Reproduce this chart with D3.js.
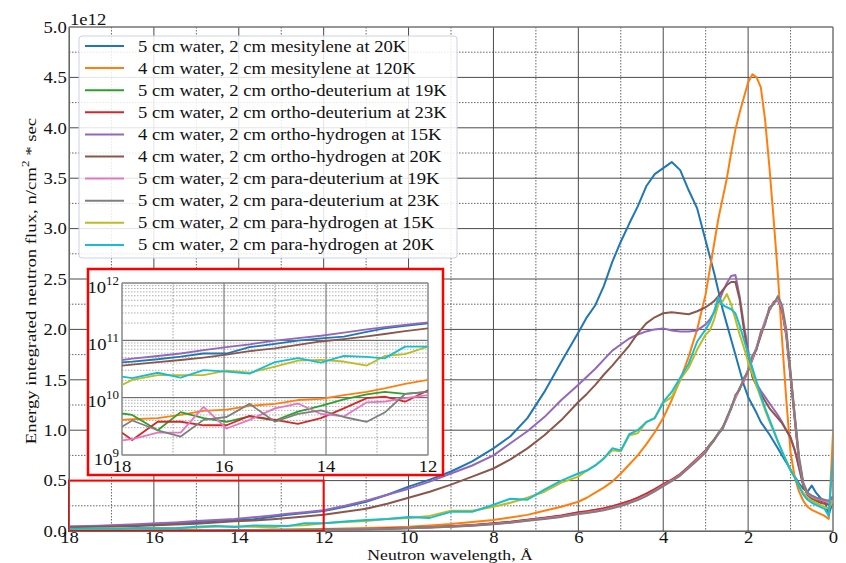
<!DOCTYPE html>
<html><head><meta charset="utf-8">
<script src="https://cdn.jsdelivr.net/npm/d3@7/dist/d3.min.js"></script>
<style>body{margin:0;background:#fff}svg{display:block}text{font-family:"Liberation Serif","Times New Roman",serif;fill:#111}</style>
</head><body><svg id="c" width="846" height="563"></svg>
<script>
// wavelength grid, Å
const wavelengths = [18,17.8,17.3,16.85,16.4,15.95,15.5,15.0,14.55,14.1,13.65,13.2,12.85,12.45,12.0,
  11.5,11,10.5,10,9.5,9,8.5,8,7.6,7.2,6.8,6.4,
  6.0,5.8,5.6,5.4,5.2,5.0,4.8,4.6,4.4,4.2,4.0,3.8,3.6,3.4,3.2,
  3.0,2.9,2.8,2.7,2.6,2.5,2.4,2.3,2.2,2.1,2.0,1.9,1.8,1.7,1.6,1.5,1.4,1.3,1.2,1.1,1.0,0.9,0.8,0.7,0.6,0.5,0.4,0.3,0.2,0.1,0];
// flux values in units of 1e12 n/cm^2*sec
const mesitylene20K = [0.0413,0.0425,0.0468,0.0519,0.0589,0.0589,0.0759,0.0871,0.0989,0.108,0.116,0.141,0.162,0.178,0.198,
  0.24,0.29,0.36,0.44,0.51,0.59,0.69,0.82,0.94,1.12,1.38,1.68,
  1.97,2.12,2.24,2.43,2.67,2.87,3.05,3.22,3.42,3.54,3.60,3.66,3.58,3.38,3.20,
  2.88,2.72,2.56,2.38,2.20,2.05,1.90,1.75,1.60,1.45,1.33,1.25,1.17,1.08,1.02,0.96,0.89,0.82,0.75,0.68,0.61,0.54,0.47,0.42,0.39,0.45,0.38,0.33,0.30,0.16,0.30];
const mesitylene120K = [0.0041,0.0042,0.0044,0.0050,0.0059,0.0062,0.0072,0.0078,0.0091,0.0095,0.0111,0.0126,0.0145,0.0174,0.0204,
  0.025,0.03,0.035,0.042,0.055,0.07,0.09,0.11,0.135,0.16,0.2,0.24,
  0.29,0.33,0.38,0.43,0.49,0.57,0.66,0.75,0.86,0.98,1.12,1.30,1.50,1.73,2.0,
  2.35,2.6,2.85,3.1,3.3,3.5,3.75,3.98,4.15,4.3,4.45,4.53,4.5,4.4,4.08,3.62,3.1,2.55,1.9,1.3,0.78,0.53,0.39,0.3,0.24,0.21,0.19,0.17,0.15,0.12,0.97];
const orthoDeuterium19K = [0.0053,0.0050,0.0027,0.0056,0.0044,0.0038,0.0047,0.0040,0.0057,0.0072,0.0093,0.0114,0.0126,0.0116,0.0126,
  0.015,0.018,0.023,0.03,0.037,0.046,0.058,0.075,0.09,0.11,0.13,0.152,
  0.182,0.193,0.207,0.222,0.243,0.265,0.293,0.325,0.365,0.41,0.46,0.505,0.56,0.635,0.715,
  0.80,0.86,0.91,0.97,1.03,1.12,1.23,1.33,1.42,1.50,1.60,1.71,1.82,1.95,2.08,2.19,2.26,2.29,2.2,1.95,1.55,1.12,0.7,0.46,0.37,0.34,0.32,0.31,0.30,0.28,0.33];
const orthoDeuterium23K = [0.00245,0.00182,0.0038,0.0038,0.0033,0.0033,0.0048,0.0041,0.0035,0.0044,0.0065,0.0098,0.0104,0.0085,0.0135,
  0.016,0.019,0.024,0.031,0.038,0.047,0.06,0.077,0.092,0.112,0.132,0.155,
  0.185,0.196,0.21,0.226,0.247,0.27,0.297,0.33,0.37,0.415,0.465,0.51,0.565,0.64,0.72,
  0.80,0.855,0.905,0.965,1.02,1.11,1.22,1.32,1.41,1.49,1.59,1.70,1.81,1.94,2.07,2.19,2.27,2.30,2.19,1.93,1.52,1.10,0.69,0.46,0.36,0.33,0.31,0.30,0.29,0.27,0.30];
const orthoHydrogen15K = [0.0454,0.0479,0.0533,0.0589,0.0676,0.0759,0.0851,0.0989,0.1096,0.1202,0.136,0.155,0.17,0.186,0.206,
  0.25,0.30,0.36,0.42,0.49,0.57,0.65,0.75,0.87,0.99,1.13,1.30,
  1.45,1.53,1.61,1.70,1.79,1.85,1.91,1.95,1.98,2.0,2.01,1.99,1.98,1.98,1.99,
  2.05,2.10,2.17,2.26,2.37,2.46,2.53,2.54,2.33,2.05,1.80,1.57,1.46,1.39,1.33,1.27,1.21,1.15,1.08,1.0,0.92,0.8,0.62,0.45,0.38,0.35,0.33,0.31,0.30,0.28,0.35];
const orthoHydrogen20K = [0.0361,0.0376,0.0417,0.0454,0.0501,0.0562,0.0646,0.0724,0.0832,0.0955,0.105,0.117,0.129,0.145,0.162,
  0.19,0.22,0.27,0.33,0.39,0.46,0.54,0.62,0.71,0.82,0.95,1.10,
  1.28,1.36,1.45,1.55,1.64,1.74,1.84,1.96,2.06,2.12,2.16,2.17,2.16,2.15,2.18,
  2.22,2.25,2.28,2.33,2.39,2.44,2.47,2.47,2.30,2.0,1.74,1.53,1.44,1.36,1.29,1.22,1.17,1.12,1.07,1.0,0.93,0.80,0.64,0.45,0.36,0.32,0.30,0.28,0.27,0.26,0.32];
const paraDeuterium19K = [0.0018,0.0019,0.00245,0.00245,0.0069,0.0029,0.0041,0.0065,0.0079,0.0052,0.0047,0.0083,0.0085,0.0098,0.0111,
  0.014,0.017,0.021,0.028,0.035,0.043,0.055,0.07,0.085,0.104,0.123,0.144,
  0.172,0.183,0.197,0.212,0.232,0.254,0.282,0.313,0.352,0.398,0.45,0.5,0.555,0.63,0.71,
  0.79,0.85,0.9,0.96,1.02,1.11,1.22,1.32,1.41,1.5,1.6,1.71,1.83,1.96,2.09,2.2,2.26,2.3,2.21,1.96,1.56,1.13,0.71,0.47,0.37,0.34,0.32,0.31,0.3,0.28,0.31];
const paraDeuterium23K = [0.0031,0.0040,0.0027,0.0021,0.0041,0.0046,0.0078,0.0038,0.0052,0.0060,0.0046,0.0038,0.0055,0.0116,0.0126,
  0.013,0.016,0.02,0.027,0.034,0.042,0.053,0.068,0.083,0.101,0.12,0.14,
  0.168,0.178,0.191,0.206,0.226,0.248,0.276,0.307,0.346,0.392,0.445,0.495,0.55,0.625,0.7,
  0.78,0.845,0.9,0.97,1.01,1.13,1.21,1.35,1.40,1.52,1.58,1.74,1.8,1.98,2.05,2.22,2.25,2.33,2.24,2.0,1.58,1.15,0.74,0.48,0.38,0.35,0.33,0.32,0.31,0.30,0.34];
const paraHydrogen15K = [0.0166,0.0204,0.0248,0.0248,0.0248,0.0295,0.0272,0.0347,0.0442,0.0457,0.0427,0.0363,0.0533,0.0575,0.0776,
  0.09,0.10,0.12,0.13,0.15,0.2,0.2,0.24,0.28,0.33,0.39,0.48,
  0.54,0.6,0.65,0.72,0.8,0.79,0.95,0.97,1.08,1.12,1.27,1.33,1.5,1.62,1.8,
  1.95,1.99,2.1,2.25,2.28,2.35,2.25,2.1,1.95,1.82,1.68,1.56,1.44,1.32,1.2,1.09,0.99,0.89,0.79,0.7,0.61,0.53,0.45,0.38,0.33,0.3,0.28,0.26,0.24,0.22,0.3];
const paraHydrogen20K = [0.0232,0.0219,0.0272,0.0224,0.0302,0.0285,0.0263,0.0417,0.049,0.0407,0.0537,0.0513,0.0485,0.0776,0.0776,
  0.095,0.11,0.12,0.14,0.13,0.19,0.19,0.26,0.32,0.31,0.41,0.50,
  0.57,0.60,0.65,0.72,0.82,0.80,0.96,1.0,1.08,1.12,1.28,1.38,1.52,1.66,1.88,
  2.0,2.07,2.18,2.32,2.24,2.22,2.2,2.16,2.04,1.9,1.76,1.62,1.48,1.34,1.22,1.11,1.0,0.89,0.79,0.69,0.6,0.53,0.44,0.36,0.31,0.28,0.26,0.24,0.22,0.15,0.73];

const seriesLabels = [
  "5 cm water, 2 cm mesitylene at 20K",
  "4 cm water, 2 cm mesitylene at 120K",
  "5 cm water, 2 cm ortho-deuterium at 19K",
  "5 cm water, 2 cm ortho-deuterium at 23K",
  "4 cm water, 2 cm ortho-hydrogen at 15K",
  "4 cm water, 2 cm ortho-hydrogen at 20K",
  "5 cm water, 2 cm para-deuterium at 19K",
  "5 cm water, 2 cm para-deuterium at 23K",
  "5 cm water, 2 cm para-hydrogen at 15K",
  "5 cm water, 2 cm para-hydrogen at 20K"];
const seriesColors = ["#1f77b4","#ff7f0e","#2ca02c","#d62728","#9467bd","#8c564b","#e377c2","#7f7f7f","#bcbd22","#17becf"];
const seriesValues = [mesitylene20K, mesitylene120K, orthoDeuterium19K, orthoDeuterium23K, orthoHydrogen15K,
  orthoHydrogen20K, paraDeuterium19K, paraDeuterium23K, paraHydrogen15K, paraHydrogen20K];

const xTicks = [18,16,14,12,10,8,6,4,2,0];
const xMinorTicks = [17,15,13,11,9,7,5,3,1];
const yTicks = [0,0.5,1,1.5,2,2.5,3,3.5,4,4.5,5];
const yMinorTicks = [0.25,0.75,1.25,1.75,2.25,2.75,3.25,3.75,4.25,4.75];
const insetXTicks = [18,16,14,12];
const insetXMinorTicks = [17,15,13];
const insetYTicks = [1e9,1e10,1e11,1e12];
const zoomRange = {from:18, to:12, top:0.5};

const series = seriesLabels.map((label,i)=>({label, color:seriesColors[i],
  points: wavelengths.map((w,j)=>({w, v:seriesValues[i][j]}))}));

const svg = d3.select("#c");
const x = d3.scaleLinear().domain([18,0]).range([69,833]);
const y = d3.scaleLinear().domain([0,5]).range([531,27]);
const [X0,X1] = x.range(), [Y0,Y1] = y.range();
const STRETCH = 1.13;

// grid
const grid = svg.append("g");
grid.selectAll(".vm").data(xMinorTicks).join("line").attr("x1",d=>x(d)).attr("x2",d=>x(d)).attr("y1",Y1).attr("y2",Y0)
  .attr("stroke","#555").attr("stroke-width",0.9).attr("stroke-dasharray","1.5,1.5");
grid.selectAll(".hm").data(yMinorTicks).join("line").attr("y1",d=>y(d)).attr("y2",d=>y(d)).attr("x1",X0).attr("x2",X1)
  .attr("stroke","#555").attr("stroke-width",0.9).attr("stroke-dasharray","1.5,1.5");
grid.selectAll(".vM").data(xTicks).join("line").attr("x1",d=>x(d)).attr("x2",d=>x(d)).attr("y1",Y1).attr("y2",Y0)
  .attr("stroke","#4a4a4a").attr("stroke-width",1);
grid.selectAll(".hM").data(yTicks).join("line").attr("y1",d=>y(d)).attr("y2",d=>y(d)).attr("x1",X0).attr("x2",X1)
  .attr("stroke","#4a4a4a").attr("stroke-width",1);

// clip
svg.append("clipPath").attr("id","pc").append("rect").attr("x",X0).attr("y",Y1).attr("width",X1-X0).attr("height",Y0-Y1);

const line = d3.line().x(d=>x(d.w)).y(d=>y(d.v));
const lg = svg.append("g").attr("clip-path","url(#pc)");
series.forEach(s=>{
  lg.append("path").datum(s.points).attr("d",line).attr("fill","none").attr("stroke",s.color)
    .attr("stroke-width",2).attr("stroke-linejoin","round");
});

// zoom box
svg.append("rect").attr("x",x(zoomRange.from)).attr("y",y(zoomRange.top))
  .attr("width",x(zoomRange.to)-x(zoomRange.from)).attr("height",y(0)-y(zoomRange.top))
  .attr("fill","none").attr("stroke","#f00").attr("stroke-width",2);

// axes
const ax = svg.append("g").attr("transform",`translate(0,${Y0})`)
  .call(d3.axisBottom(x).tickValues(xTicks).tickSize(0).tickPadding(0).tickFormat(d3.format("d")));
ax.select(".domain").attr("stroke","#666");
ax.selectAll("text").attr("font-size",16.5).attr("font-family","Liberation Serif").attr("transform",`scale(${STRETCH},1)`);
const ay = svg.append("g").attr("transform",`translate(${X0},0)`)
  .call(d3.axisLeft(y).tickValues(yTicks).tickSize(0).tickPadding(2).tickFormat(d3.format(".1f")));
ay.select(".domain").attr("stroke","#666");
ay.selectAll("text").attr("font-size",16.5).attr("font-family","Liberation Serif").attr("transform",`scale(${STRETCH},1)`);
svg.append("line").attr("x1",X0).attr("x2",X1).attr("y1",Y1).attr("y2",Y1).attr("stroke","#888");
svg.append("line").attr("x1",X1).attr("x2",X1).attr("y1",Y1).attr("y2",Y0).attr("stroke","#888");

svg.append("text").attr("transform",`translate(70,25) scale(${STRETCH},1)`).attr("font-size",16.5).text("1e12");
svg.append("text").attr("transform",`translate(450,559.5) scale(1.18,1)`).attr("text-anchor","middle").attr("font-size",15).text("Neutron wavelength, Å");
const yl = svg.append("text").attr("transform","translate(36,281) rotate(-90) scale(1.25,1)").attr("text-anchor","middle").attr("font-size",15);
yl.append("tspan").text("Energy integrated neutron flux, n/cm");
yl.append("tspan").attr("dy",-7).attr("font-size",10.5).text("2");
yl.append("tspan").attr("dy",7).text(" * sec");

// inset
const ins = svg.append("g");
ins.append("rect").attr("x",88).attr("y",269).attr("width",355).attr("height",206).attr("fill","#fff").attr("stroke","#f00").attr("stroke-width",2.5);
const ix = d3.scaleLinear().domain([18,12]).range([122,428]);
const iy = d3.scaleLog().domain([1e9,1e12]).range([455,283]);
const [IX0,IX1] = ix.range(), [IY0,IY1] = iy.range();
const minorLog = [];
[1e9,1e10,1e11].forEach(b=>{for(let k=2;k<10;k++) minorLog.push(b*k);});
ins.selectAll(".im").data(minorLog).join("line").attr("x1",IX0).attr("x2",IX1).attr("y1",d=>iy(d)).attr("y2",d=>iy(d))
  .attr("stroke","#999").attr("stroke-width",0.8).attr("stroke-dasharray","1.5,1.5");
ins.selectAll(".ivm").data(insetXMinorTicks).join("line").attr("x1",d=>ix(d)).attr("x2",d=>ix(d)).attr("y1",IY1).attr("y2",IY0)
  .attr("stroke","#888").attr("stroke-width",0.8).attr("stroke-dasharray","1.5,1.5");
ins.selectAll(".ivM").data(insetXTicks).join("line").attr("x1",d=>ix(d)).attr("x2",d=>ix(d)).attr("y1",IY1).attr("y2",IY0)
  .attr("stroke","#666").attr("stroke-width",1);
ins.selectAll(".ihM").data(insetYTicks).join("line").attr("x1",IX0).attr("x2",IX1).attr("y1",d=>iy(d)).attr("y2",d=>iy(d))
  .attr("stroke","#555").attr("stroke-width",1);
ins.append("rect").attr("x",IX0).attr("y",IY1).attr("width",IX1-IX0).attr("height",IY0-IY1).attr("fill","none").attr("stroke","#999");
ins.append("clipPath").attr("id","ic").append("rect").attr("x",IX0).attr("y",IY1).attr("width",IX1-IX0).attr("height",IY0-IY1);
const iline = d3.line().x(d=>ix(d.w)).y(d=>iy(d.v*1e12));
const ilg = ins.append("g").attr("clip-path","url(#ic)");
series.forEach(s=>{
  ilg.append("path").datum(s.points.filter(p=>p.w>=12)).attr("d",iline).attr("fill","none").attr("stroke",s.color)
    .attr("stroke-width",1.8).attr("stroke-linejoin","round");
});
ins.selectAll(".ixl").data(insetXTicks).join("text").attr("transform",d=>`translate(${ix(d)},472) scale(${STRETCH},1)`).attr("text-anchor","middle")
  .attr("font-size",16.5).text(d=>d);
insetYTicks.forEach(v=>{
  const t = ins.append("text").attr("transform",`translate(119,${iy(v)+9.5}) scale(${STRETCH},1)`).attr("text-anchor","end").attr("font-size",16.5);
  t.append("tspan").text("10");
  t.append("tspan").attr("dy",-8).attr("font-size",11.5).text(Math.round(Math.log10(v)));
});

// legend
const leg = svg.append("g");
leg.append("rect").attr("x",79).attr("y",36).attr("width",378).attr("height",222).attr("rx",3)
  .attr("fill","#fff").attr("fill-opacity",0.85).attr("stroke","#ccd0ee");
series.forEach((s,i)=>{
  const cy = 46 + i*22.1;
  leg.append("line").attr("x1",85).attr("x2",124).attr("y1",cy).attr("y2",cy).attr("stroke",s.color).attr("stroke-width",2);
  leg.append("text").attr("transform",`translate(138,${cy+5.5}) scale(${STRETCH},1)`).attr("font-size",16.5).text(s.label);
});
</script></body></html>
